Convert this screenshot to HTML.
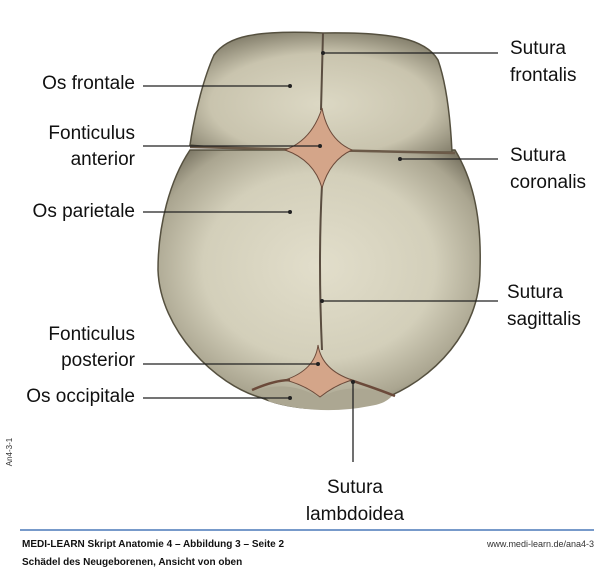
<!DOCTYPE html>
<html><head><meta charset="utf-8"><style>
html,body{margin:0;padding:0;background:#fff;}
svg{display:block;font-family:"Liberation Sans",sans-serif;}
</style></head><body>
<svg width="600" height="569" viewBox="0 0 600 569" xmlns="http://www.w3.org/2000/svg">
<defs>
<radialGradient id="g" cx="50%" cy="45%" r="60%">
<stop offset="0" stop-color="#e2decb"/><stop offset="0.6" stop-color="#d3cfba"/><stop offset="0.88" stop-color="#aaa590"/><stop offset="1" stop-color="#7d7866"/>
</radialGradient>
<radialGradient id="f" cx="50%" cy="60%" r="65%">
<stop offset="0" stop-color="#dcd8c4"/><stop offset="0.65" stop-color="#c9c4ae"/><stop offset="1" stop-color="#807b68"/>
</radialGradient>
</defs>
<path d="M190,150 C170,180 158,225 158,270 C160,330 215,385 262,398 C295,412 350,412 380,400 C435,380 480,330 480,270 C482,210 470,175 455,150 Z" fill="url(#g)" stroke="#55503f" stroke-width="1.5"/>
<path d="M323,33 C255,30 228,36 214,55 C205,75 195,110 190,145 C230,150 400,152 452,152 C450,110 445,80 438,60 C425,38 390,32 323,33 Z" fill="url(#f)" stroke="#55503f" stroke-width="1.5"/>
<path d="M190,147 L455,153" stroke="#6b5a48" stroke-width="2.5" fill="none"/>
<path d="M323,33 L321,110 M322,185 Q318,260 322,350" stroke="#5a4d40" stroke-width="2" fill="none"/>
<path d="M322,108 Q328,140 352,150 Q330,160 322,188 Q314,160 285,150 Q312,140 322,108 Z" fill="#d4a589" stroke="#6b4a3a" stroke-width="1"/>
<path d="M258,390 Q290,380 320,398 Q350,380 392,396 Q385,404 370,406 Q320,416 270,402 Z" fill="#aca792"/>
<path d="M318,345 Q322,370 352,380 Q335,385 320,397 Q305,385 285,380 Q315,370 318,345 Z" fill="#d4a589" stroke="#6b4a3a" stroke-width="1"/>
<path d="M252,390 Q275,380 290,380 M350,380 Q375,388 395,396" stroke="#6b4a3a" stroke-width="2.5" fill="none"/>
<g stroke="#222" stroke-width="1.3" fill="none">
<line x1="143" y1="86" x2="290" y2="86"/>
<line x1="143" y1="146" x2="320" y2="146"/>
<line x1="143" y1="212" x2="290" y2="212"/>
<line x1="143" y1="364" x2="318" y2="364"/>
<line x1="143" y1="398" x2="290" y2="398"/>
<line x1="323" y1="53" x2="498" y2="53"/>
<line x1="400" y1="159" x2="498" y2="159"/>
<line x1="322" y1="301" x2="498" y2="301"/>
<line x1="353" y1="382" x2="353" y2="462"/>
</g>
<g fill="#222">
<circle cx="290" cy="86" r="2"/><circle cx="320" cy="146" r="2"/><circle cx="290" cy="212" r="2"/>
<circle cx="318" cy="364" r="2"/><circle cx="290" cy="398" r="2"/><circle cx="323" cy="53" r="2"/>
<circle cx="400" cy="159" r="2"/><circle cx="322" cy="301" r="2"/><circle cx="353" cy="382" r="2"/>
</g>
<g font-size="19" fill="#111">
<text x="135" y="89" text-anchor="end">Os frontale</text>
<text x="135" y="139" text-anchor="end">Fonticulus</text>
<text x="135" y="165" text-anchor="end">anterior</text>
<text x="135" y="217" text-anchor="end">Os parietale</text>
<text x="135" y="340" text-anchor="end">Fonticulus</text>
<text x="135" y="366" text-anchor="end">posterior</text>
<text x="135" y="402" text-anchor="end">Os occipitale</text>
<text x="510" y="54">Sutura</text>
<text x="510" y="81">frontalis</text>
<text x="510" y="161">Sutura</text>
<text x="510" y="188">coronalis</text>
<text x="507" y="298">Sutura</text>
<text x="507" y="325">sagittalis</text>
<text x="355" y="493" text-anchor="middle">Sutura</text>
<text x="355" y="520" text-anchor="middle">lambdoidea</text>
</g>
<text x="12" y="452" font-size="8" fill="#333" transform="rotate(-90 12 452)" text-anchor="middle">An4-3-1</text>
<line x1="20" y1="530" x2="594" y2="530" stroke="#4a78b8" stroke-width="1.5"/>
<text x="22" y="547" font-size="10" font-weight="bold" fill="#111">MEDI-LEARN Skript Anatomie 4 – Abbildung 3 – Seite 2</text>
<text x="594" y="547" font-size="9" fill="#333" text-anchor="end">www.medi-learn.de/ana4-3</text>
<text x="22" y="565" font-size="10" font-weight="bold" fill="#111">Schädel des Neugeborenen, Ansicht von oben</text>
</svg>
</body></html>
